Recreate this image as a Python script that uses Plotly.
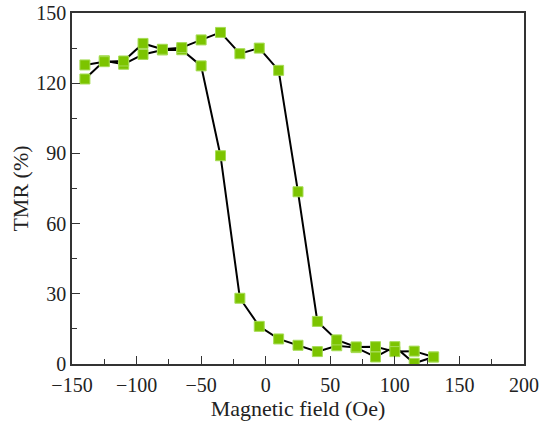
import plotly.graph_objects as go

# Sweep from negative to positive field
field_up = [-140, -125, -110, -95, -80, -65, -50, -35, -20, -5, 10, 25, 40, 55, 70, 85, 100, 115, 130]
tmr_up = [121.8, 129.6, 128.1, 132.3, 134.2, 134.3, 127.4, 89.0, 28.1, 16.1, 10.7, 8.0, 5.3, 7.8, 7.0, 3.0, 7.4, 0.3, 3.0]

# Sweep from positive to negative field
field_down = [130, 115, 100, 85, 70, 55, 40, 25, 10, -5, -20, -35, -50, -65, -80, -95, -110, -125, -140]
tmr_down = [3.0, 5.5, 5.3, 7.4, 7.3, 10.3, 18.2, 73.6, 125.5, 135.0, 132.6, 141.7, 138.5, 135.2, 134.5, 137.0, 129.5, 129.2, 127.8]

x_ticks = [-150, -100, -50, 0, 50, 100, 150, 200]
y_ticks = [0, 30, 60, 90, 120, 150]

marker = dict(symbol="square", size=10, color="#7cc400", line=dict(color="#a6dc55", width=1))
line = dict(color="black", width=2)

fig = go.Figure()
fig.add_trace(go.Scatter(x=field_up, y=tmr_up, mode="lines+markers", line=line, marker=marker, showlegend=False))
fig.add_trace(go.Scatter(x=field_down, y=tmr_down, mode="lines+markers", line=line, marker=marker, showlegend=False))

font = dict(family="Liberation Serif", color="#222", size=20)

fig.update_layout(
    width=548, height=430,
    margin=dict(l=72, r=24, t=13, b=66),
    plot_bgcolor="white", paper_bgcolor="white",
    font=font,
    xaxis=dict(
        range=[-150, 200], tickvals=x_ticks, ticks="inside", ticklen=8, tickwidth=1.2, tickcolor="#333",
        showline=True, linecolor="#333", linewidth=1.5, mirror=True, showgrid=False, zeroline=False,
        minor=dict(dtick=25, tick0=-150, ticks="inside", ticklen=5, tickcolor="#333", tickwidth=1.2, showgrid=False),
        title=dict(text="Magnetic field (Oe)", standoff=4, font=dict(size=22)),
        tickfont=dict(size=20), automargin=False, ticklabelstandoff=2,
    ),
    yaxis=dict(
        range=[0, 150], tickvals=y_ticks, ticks="inside", ticklen=8, tickwidth=1.2, tickcolor="#333",
        showline=True, linecolor="#333", linewidth=1.5, mirror=True, showgrid=False, zeroline=False,
        minor=dict(dtick=15, tick0=0, ticks="inside", ticklen=5, tickcolor="#333", tickwidth=1.2, showgrid=False),
        title=dict(text="TMR (%)", standoff=2, font=dict(size=22)),
        tickfont=dict(size=20), automargin=False,
    ),
)

fig.write_html("out.html", config={"displayModeBar": False}, post_script="document.body.style.margin='0';")
